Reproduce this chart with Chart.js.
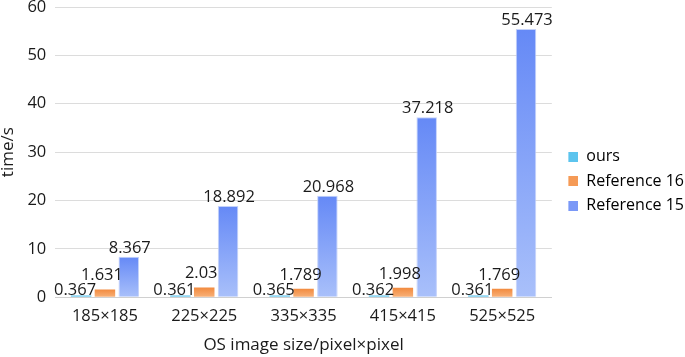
<!DOCTYPE html>
<html><head><meta charset="utf-8">
<script src="https://cdn.jsdelivr.net/npm/chart.js@4.4.0/dist/chart.umd.min.js"></script>
<style>html,body{margin:0;padding:0;background:#fff}#wrap{width:685px;height:357px}</style>
</head><body><div id="wrap"><canvas id="c" width="685" height="357"></canvas></div>
<script>
const categories = ["185×185","225×225","335×335","415×415","525×525"];
const ours = [0.367,0.361,0.365,0.362,0.361];
const ref16 = [1.631,2.03,1.789,1.998,1.769];
const ref15 = [8.367,18.892,20.968,37.218,55.473];
const yTicks = [0,10,20,30,40,50,60];

const FONT = "'Open Sans', 'Noto Sans', sans-serif";
const styles = [
  {top:'#4fbde9', bot:'#8fd8f5', leg:'#5cc4ee', dx:-6, dy:-1},
  {top:'#f28a3e', bot:'#f8b27a', leg:'#f59a56', dx:-3, dy:-9},
  {top:'#6589f6', bot:'#a9c0fa', leg:'#7a98f7', dx:1, dy:-4}
];
// legend marker: 18px wide slot with a 10x10 square on its right side
function marker(color){
  const cv = document.createElement('canvas'); cv.width = 18; cv.height = 10;
  const g = cv.getContext('2d'); g.fillStyle = color; g.fillRect(8, 0, 10, 10);
  return cv;
}
function grad(i){
  return function(ctx){
    const chart = ctx.chart; const ca = chart.chartArea;
    if(!ca || ctx.raw===undefined) return styles[i].leg;
    const y = chart.scales.y;
    const top = y.getPixelForValue(ctx.raw), base = y.getPixelForValue(0);
    const g = chart.ctx.createLinearGradient(0, top, 0, Math.max(base, top+1));
    g.addColorStop(0, styles[i].top); g.addColorStop(1, styles[i].bot);
    return g;
  };
}
const labelPlugin = {
  id:'vals',
  afterDatasetsDraw(chart){
    const c = chart.ctx; c.save();
    c.font = "16.5px " + FONT; c.fillStyle = '#1a1a1a';
    c.textAlign = 'center'; c.textBaseline = 'alphabetic';
    chart.data.datasets.forEach((ds, di) => {
      chart.getDatasetMeta(di).data.forEach((bar, j) => {
        c.fillText(String(ds.data[j]), bar.x + styles[di].dx, bar.y + styles[di].dy);
      });
    });
    c.restore();
  }
};
new Chart(document.getElementById('c'), {
  type:'bar',
  data:{labels:categories, datasets:[
    {label:'ours', data:ours, backgroundColor:grad(0), borderWidth:0},
    {label:'Reference 16', data:ref16, backgroundColor:grad(1), borderWidth:0},
    {label:'Reference 15', data:ref15, backgroundColor:grad(2), borderColor:'rgba(190,205,250,0.9)', borderWidth:1}
  ]},
  options:{
    responsive:false, animation:false,
    layout:{padding:{top:7,left:-2,right:-9,bottom:1.5}},
    datasets:{bar:{categoryPercentage:0.72, barPercentage:0.86}},
    plugins:{
      legend:{position:'right', labels:{
        font:{family:FONT,size:16}, color:'#1a1a1a', usePointStyle:true, pointStyleWidth:18, boxHeight:10, padding:8.5,
        generateLabels(chart){ return chart.data.datasets.map((d,i)=>({text:d.label, pointStyle:marker(styles[i].leg), fillStyle:styles[i].leg, strokeStyle:styles[i].leg, lineWidth:0, datasetIndex:i})); }
      }},
      tooltip:{enabled:false}
    },
    scales:{
      x:{grid:{display:false, drawTicks:false}, border:{color:'#d0d0d0'},
         ticks:{font:{family:FONT,size:16.5}, color:'#1a1a1a', padding:9},
         title:{display:true, text:'OS image size/pixel×pixel', font:{family:FONT,size:17}, color:'#1a1a1a', padding:{top:0,bottom:0}}},
      y:{min:0, max:60, afterBuildTicks(ax){ ax.ticks = yTicks.map(v=>({value:v})); },
         afterFit(ax){ ax.paddingTop = 0; ax.paddingBottom = 0; },
         grid:{color:'#dcdcdc', drawTicks:false}, border:{display:false},
         ticks:{font:{family:FONT,size:16.5}, color:'#1a1a1a', padding:9},
         title:{display:true, text:'time/s', font:{family:FONT,size:17}, color:'#1a1a1a', padding:{top:0,bottom:0}}}
    }
  },
  plugins:[labelPlugin]
});
</script></body></html>
